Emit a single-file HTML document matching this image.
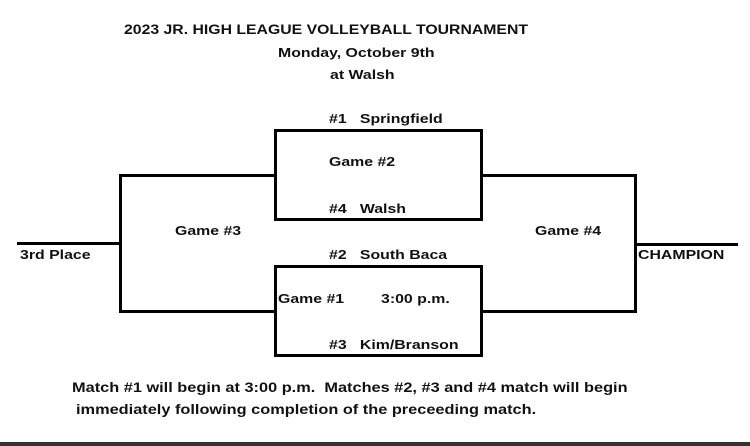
<!DOCTYPE html>
<html><head><style>
body{margin:0;width:750px;height:446px;background:#fff;position:relative;overflow:hidden;font-family:"Liberation Sans",Arial,sans-serif;font-weight:bold;color:#111}
.l{position:absolute;background:#000}
.t{position:absolute;font-size:13px;white-space:nowrap;transform:scaleX(1.22);transform-origin:0 50%}
</style></head><body>
<div class="t" style="left:124px;top:22px;font-size:13.5px;transform:scaleX(1.17)">2023 JR. HIGH LEAGUE VOLLEYBALL TOURNAMENT</div>
<div class="t" style="left:278px;top:45px">Monday, October 9th</div>
<div class="t" style="left:330px;top:67px">at Walsh</div>

<div class="l" style="left:274px;top:129px;width:209px;height:3px"></div>
<div class="l" style="left:274px;top:218px;width:209px;height:3px"></div>
<div class="l" style="left:274px;top:129px;width:3px;height:92px"></div>
<div class="l" style="left:480px;top:129px;width:3px;height:92px"></div>
<div class="l" style="left:274px;top:265px;width:209px;height:3px"></div>
<div class="l" style="left:274px;top:354px;width:209px;height:3px"></div>
<div class="l" style="left:274px;top:265px;width:3px;height:92px"></div>
<div class="l" style="left:480px;top:265px;width:3px;height:92px"></div>
<div class="l" style="left:119px;top:174px;width:158px;height:3px"></div>
<div class="l" style="left:119px;top:310px;width:158px;height:3px"></div>
<div class="l" style="left:119px;top:174px;width:3px;height:139px"></div>
<div class="l" style="left:17px;top:242px;width:104px;height:3px"></div>
<div class="l" style="left:480px;top:174px;width:157px;height:3px"></div>
<div class="l" style="left:480px;top:310px;width:157px;height:3px"></div>
<div class="l" style="left:634px;top:174px;width:3px;height:139px"></div>
<div class="l" style="left:634px;top:243px;width:104px;height:3px"></div>

<div class="t" style="left:329px;top:111px">#1&nbsp;&nbsp;&nbsp;Springfield</div>
<div class="t" style="left:329px;top:154px">Game #2</div>
<div class="t" style="left:329px;top:201px">#4&nbsp;&nbsp;&nbsp;Walsh</div>
<div class="t" style="left:329px;top:247px">#2&nbsp;&nbsp;&nbsp;South Baca</div>
<div class="t" style="left:278px;top:291px">Game #1</div>
<div class="t" style="left:381px;top:291px">3:00 p.m.</div>
<div class="t" style="left:329px;top:337px">#3&nbsp;&nbsp;&nbsp;Kim/Branson</div>
<div class="t" style="left:175px;top:223px">Game #3</div>
<div class="t" style="left:535px;top:223px">Game #4</div>
<div class="t" style="left:20px;top:247px">3rd Place</div>
<div class="t" style="left:638px;top:247px">CHAMPION</div>
<div class="t" style="left:72px;top:380px;font-size:13.5px;transform:scaleX(1.21)">Match #1 will begin at 3:00 p.m.&nbsp; Matches #2, #3 and #4 match will begin</div>
<div class="t" style="left:76px;top:402px;font-size:13.5px;transform:scaleX(1.21)">immediately following completion of the preceeding match.</div>
<div class="l" style="left:0;top:442px;width:750px;height:4px;background:#333"></div>
</body></html>
